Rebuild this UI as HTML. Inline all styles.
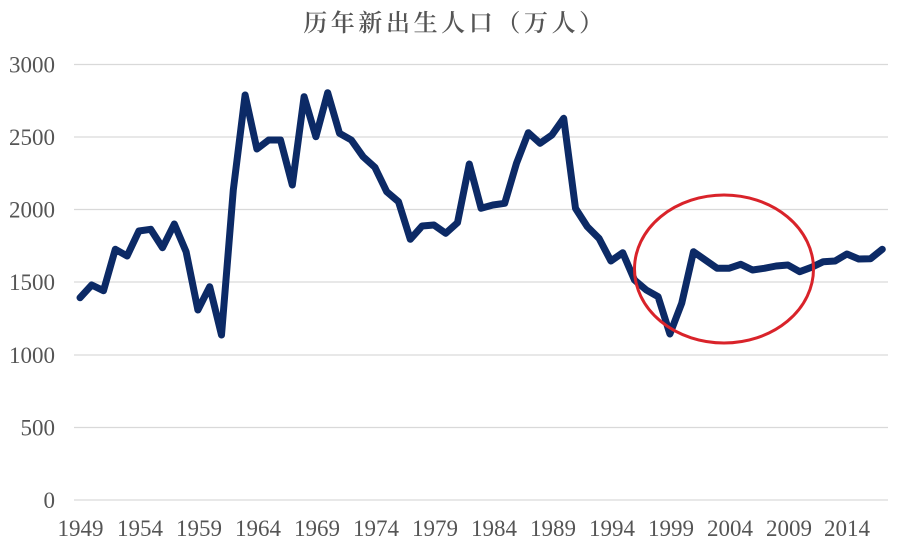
<!DOCTYPE html>
<html>
<head>
<meta charset="utf-8">
<style>
  html,body{margin:0;padding:0;background:#fff;}
  svg{display:block;}
  .ax{font-family:"Liberation Serif","DejaVu Serif",serif;font-size:23px;fill:#555;}
  .title{font-family:"Liberation Serif","Noto Serif CJK SC",serif;font-size:24px;font-weight:600;fill:#555;letter-spacing:3.6px;}
</style>
</head>
<body>
<svg width="914" height="554" viewBox="0 0 914 554" xmlns="http://www.w3.org/2000/svg">
  <rect width="914" height="554" fill="#fff"/>
  <text class="title" x="455" y="31" text-anchor="middle">历年新出生人口（万人）</text>
  <g stroke="#d9d9d9" stroke-width="1.3">
    <line x1="74" y1="64.5" x2="888" y2="64.5"/>
    <line x1="74" y1="137" x2="888" y2="137"/>
    <line x1="74" y1="209.5" x2="888" y2="209.5"/>
    <line x1="74" y1="282" x2="888" y2="282"/>
    <line x1="74" y1="355" x2="888" y2="355"/>
    <line x1="74" y1="427.5" x2="888" y2="427.5"/>
    <line x1="74" y1="500" x2="888" y2="500"/>
  </g>
  <g class="ax" text-anchor="end">
    <text x="55" y="72.5">3000</text>
    <text x="55" y="145">2500</text>
    <text x="55" y="217.5">2000</text>
    <text x="55" y="290">1500</text>
    <text x="55" y="363">1000</text>
    <text x="55" y="435.5">500</text>
    <text x="55" y="508">0</text>
  </g>
  <g class="ax" text-anchor="middle">
    <text x="80.5" y="536">1949</text>
    <text x="140" y="536">1954</text>
    <text x="199" y="536">1959</text>
    <text x="258" y="536">1964</text>
    <text x="317" y="536">1969</text>
    <text x="376" y="536">1974</text>
    <text x="435" y="536">1979</text>
    <text x="494" y="536">1984</text>
    <text x="553" y="536">1989</text>
    <text x="612" y="536">1994</text>
    <text x="671" y="536">1999</text>
    <text x="730" y="536">2004</text>
    <text x="789" y="536">2009</text>
    <text x="847" y="536">2014</text>
  </g>
  <polyline fill="none" stroke="#0c2a66" stroke-width="7" stroke-linejoin="round" stroke-linecap="round"
    points="80,297.7 91.7,285 103.5,290.7 115.3,249.3 127.1,256 138.9,231 150.7,229.3 162.5,247.7 174.3,224 186.1,251.7 197.9,310 209.7,286.7 221.5,335 233.3,190 245.1,95 256.9,149 268.7,140 280.5,140 292.3,185 304.1,96.7 315.9,136.7 327.7,92.7 339.5,133.3 351.3,140 363.1,156.7 374.9,167.3 386.7,191.7 398.5,201.7 410.3,239.3 422.1,226 433.9,225 445.7,233.3 457.5,222.7 469.3,164 481.1,208.3 492.9,205 504.7,203.3 516.5,163.3 528.3,132.7 540.1,143.3 551.9,135 563.7,118.3 575.5,208.3 587.3,226.7 599.1,238.5 610.9,261 622.7,252.7 634.5,280 646.3,290 658.1,296.7 669.9,334 681.7,303.3 693.5,251.7 705.3,260 717.1,268.3 728.9,268.3 740.7,264.3 752.5,270 764.3,268.3 776.1,266 787.9,265 799.7,271.7 811.5,267.3 823.3,261.7 835.1,261 846.9,254 858.7,259 870.5,258.7 882.3,249.3"/>
  <ellipse cx="724" cy="269" rx="89.5" ry="74" fill="none" stroke="#d9232a" stroke-width="3"/>
</svg>
</body>
</html>
